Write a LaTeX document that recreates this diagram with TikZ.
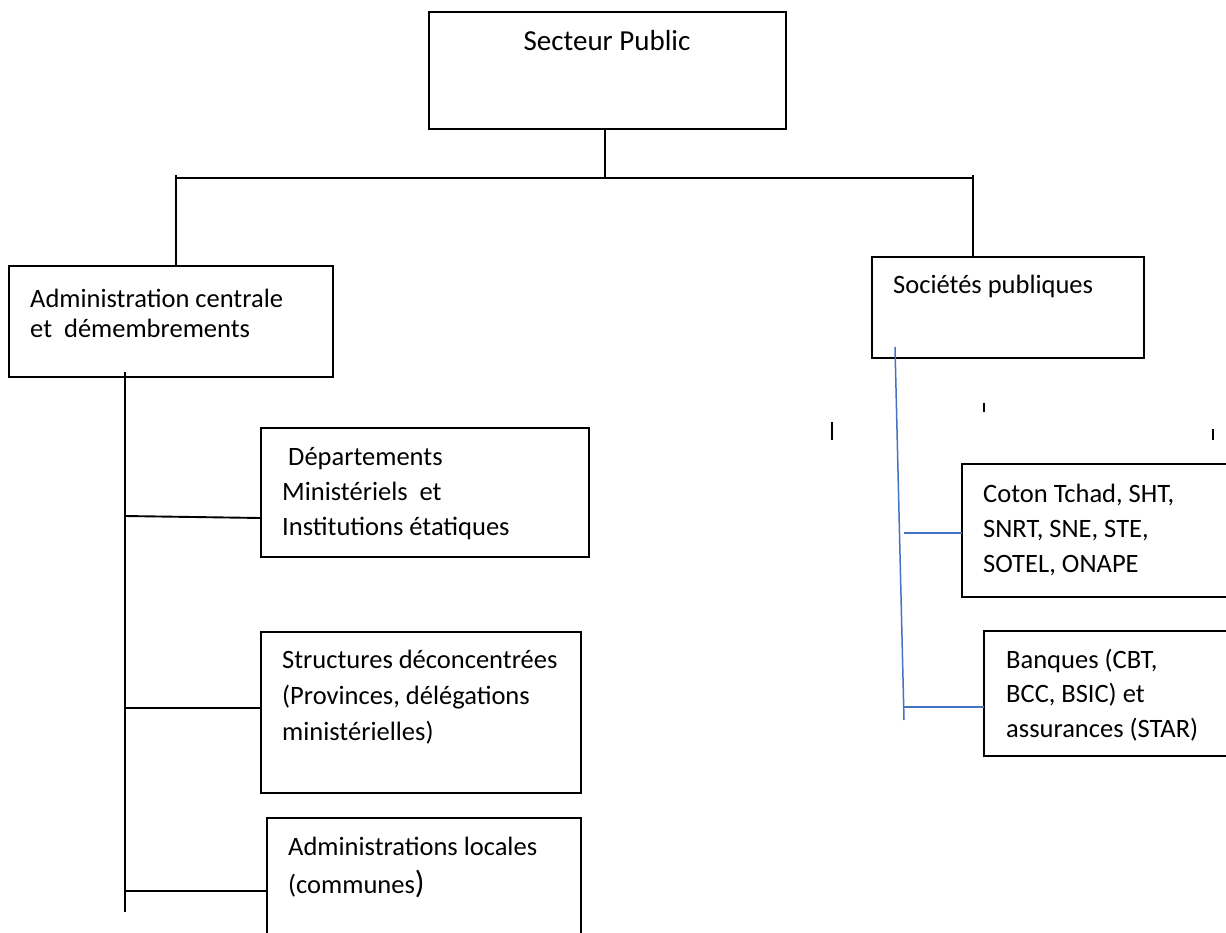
\documentclass[tikz,border=0pt]{standalone}
\usepackage{fontspec}
\setmainfont{Carlito}
\begin{document}
\begin{tikzpicture}[x=1pt,y=-1pt,
  blk/.style={line width=1.9pt,black},
  blu/.style={line width=1.5pt,color={rgb,255:red,68;green,114;blue,196}},
  box/.style={draw,line width=1.9pt,anchor=north west,inner sep=0pt,outer sep=0pt},
  txt/.style={anchor=base west,align=left,inner sep=0pt,font=\fontsize{26.5}{35}\selectfont},
  tick/.style={line width=1.6pt,black}]
\useasboundingbox (0,0) rectangle (1226,932);
\clip (0,0) rectangle (1226,932);
\fill[white] (0,0) rectangle (1226,932);
% boxes (text nodes are anchored at the baseline of their last line)
\node[box,minimum width=357pt,minimum height=117pt] (top) at (429,12) {};
\node[anchor=base,inner sep=0pt,font=\fontsize{29}{35}\selectfont] (toptxt) at (607,50) {Secteur Public};
\node[box,minimum width=324pt,minimum height=111pt] (adm) at (9,266) {};
\node[txt,font=\fontsize{26.5}{29.5}\selectfont] (admtxt) at (30,337) {Administration centrale\\et\ \ démembrements};
\node[box,minimum width=272pt,minimum height=101pt] (soc) at (872,257) {};
\node[txt] (soctxt) at (893,293) {Sociétés publiques};
\node[box,minimum width=328pt,minimum height=129pt] (dep) at (261,428) {};
\node[txt] (deptxt) at (282,535) {\hspace{6pt}Départements\\Ministériels\ \ et\\Institutions étatiques};
\node[box,minimum width=320pt,minimum height=161pt] (str) at (261,632) {};
\node[txt,font=\fontsize{26.5}{36}\selectfont] (strtxt) at (282,740) {Structures déconcentrées\\(Provinces, délégations\\ministérielles)};
\node[box,minimum width=314pt,minimum height=150pt] (loc) at (267,818) {};
\node[txt,font=\fontsize{26.5}{38}\selectfont] (loctxt) at (288,893) {Administrations locales\\(communes{\fontsize{32}{38}\selectfont)}};
\node[box,minimum width=290pt,minimum height=133pt] (cot) at (962,464) {};
\node[txt] (cottxt) at (983,572) {Coton Tchad, SHT,\\SNRT, SNE, STE,\\SOTEL, ONAPE};
\node[box,minimum width=270pt,minimum height=125pt] (ban) at (984,631) {};
\node[txt,font=\fontsize{26.5}{34.5}\selectfont] (bantxt) at (1006,737) {Banques (CBT,\\BCC, BSIC) et\\assurances (STAR)};
% top connectors
\coordinate (j) at (605,178);
\coordinate (hl) at (176,175);
\coordinate (hr) at (973,175);
\draw[blk] (605,129) -- (j);
\draw[blk] (176,178) -- (973,178);
\draw[blk] (hl) -- (hl |- adm.north);
\draw[blk] (hr) -- (hr |- soc.north);
% left trunk
\coordinate (lt) at (125,372);
\coordinate (lb) at (125,912);
\draw[blk] (lt) -- (lb);
\coordinate (b1) at (125,516);
\coordinate (b2) at (125,708);
\coordinate (b3) at (125,891);
\draw[blk] (b1) -- (dep.west |- 0,518);
\draw[blk] (b2) -- (b2 -| str.west);
\draw[blk] (b3) -- (b3 -| loc.west);
% right (blue) trunk
\coordinate (rt) at (895,347);
\coordinate (rb) at (904,720);
\draw[blu] (rt) -- (rb);
\coordinate (c1) at (904,533);
\coordinate (c2) at (904,707);
\draw[blu] (c1) -- (c1 -| cot.west);
\draw[blu] (c2) -- (c2 -| ban.west);
% stray ticks
\coordinate (k1) at (832,422);
\coordinate (k2) at (984,403);
\coordinate (k3) at (1213,429);
\draw[tick] (k1) -- ++(0,18);
\draw[tick] (k2) -- ++(0,9);
\draw[tick] (k3) -- ++(0,11);
\end{tikzpicture}
\end{document}
